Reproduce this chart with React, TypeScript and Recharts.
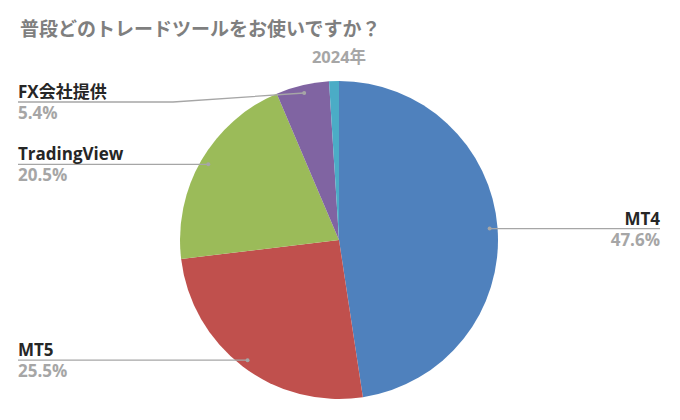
import React from 'react';
import { PieChart, Pie, Cell } from 'recharts';

const TITLE = '普段どのトレードツールをお使いですか？';
const SUBTITLE = '2024年';
const categories = ['MT4', 'MT5', 'TradingView', 'FX会社提供', 'その他'];
const values = [47.6, 25.5, 20.5, 5.4, 1.0];
const colors = ['#4F81BD', '#C0504D', '#9BBB59', '#8064A2', '#4BACC6'];
const showLabel = [true, true, true, true, false];

const data = categories.map((name, i) => ({ name, value: values[i] }));

const CX = 339;
const CY = 240;
const R = 159;
const FONT = '"Open Sans", "Noto Sans CJK JP", sans-serif';
const LINE_COLOR = '#a6a6a6';

const renderLabel = (props: any) => {
  const { midAngle, index } = props;
  if (!showLabel[index]) return null;
  const rad = Math.PI / 180;
  const dr = R * 0.95;
  const dx = CX + dr * Math.cos(-midAngle * rad);
  const dy = CY + dr * Math.sin(-midAngle * rad);
  const right = dx > CX;
  const lineY = right ? dy : Math.max(dy, 102);
  const endX = right ? 660 : 18;
  const elbowX = right ? 504 : 173;
  const pct = values[index].toFixed(1) + '%';
  return (
    <g key={`lbl-${index}`}>
      <polyline
        points={`${endX},${lineY} ${elbowX},${lineY} ${dx},${dy}`}
        fill="none"
        stroke={LINE_COLOR}
        strokeWidth={1.3}
      />
      <circle cx={dx} cy={dy} r={2} fill={LINE_COLOR} />
      <text
        x={endX}
        y={lineY - 4}
        textAnchor={right ? 'end' : 'start'}
        fontFamily={FONT}
        fontWeight={700}
        fontSize={17}
        fill="#262626"
      >
        {categories[index]}
      </text>
      <text
        x={endX}
        y={lineY + 17}
        textAnchor={right ? 'end' : 'start'}
        fontFamily={FONT}
        fontWeight={700}
        fontSize={17}
        fill="#a6a6a6"
      >
        {pct}
      </text>
    </g>
  );
};

export default function App() {
  return (
    <div style={{ position: 'absolute', left: 0, top: 0, width: 680, height: 420, background: '#fff' }}>
      <PieChart width={680} height={420} margin={{ top: 0, right: 0, bottom: 0, left: 0 }}>
        <text x={20} y={36} fontFamily={FONT} fontWeight={700} fontSize={19} fill="#7f7f7f">
          {TITLE}
        </text>
        <text x={CX} y={63} textAnchor="middle" fontFamily={FONT} fontWeight={700} fontSize={16.5} fill="#a6a6a6">
          {SUBTITLE}
        </text>
        <Pie
          data={data}
          dataKey="value"
          nameKey="name"
          cx={CX}
          cy={CY}
          outerRadius={R}
          startAngle={90}
          endAngle={-270}
          stroke="none"
          label={renderLabel}
          labelLine={false}
          isAnimationActive={false}
        >
          {data.map((d, i) => (
            <Cell key={d.name} fill={colors[i]} />
          ))}
        </Pie>
      </PieChart>
    </div>
  );
}
